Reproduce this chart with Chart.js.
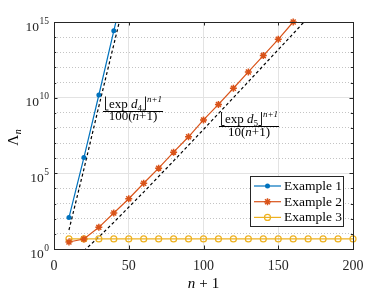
<!DOCTYPE html>
<html>
<head>
<meta charset="utf-8">
<script src="https://cdn.jsdelivr.net/npm/chart.js@4/dist/chart.umd.min.js"></script>
<style>
  html, body { margin: 0; padding: 0; background: #fff; }
  #chart { display: block; }
</style>
</head>
<body>
<canvas id="chart" width="390" height="293"></canvas>
<script>
// values (n+1 on x, Lambda_n on y)
const nExample1 = [10, 20, 30, 40, 50];
const example1 = [1.2e2, 1.1e6, 1.5e10, 2.6e14, 4e18];
const nExample2 = [10, 20, 30, 40, 50, 60, 70, 80, 90, 100, 110, 120, 130, 140, 150, 160];
const example2 = [2.9, 4.6, 27, 240, 2.1e3, 2.2e4, 2.2e5, 2.5e6, 2.6e7, 3.4e8, 3.6e9, 4.2e10, 5e11, 6e12, 7.2e13, 1e15];
const nExample3 = [10, 20, 30, 40, 50, 60, 70, 80, 90, 100, 110, 120, 130, 140, 150, 160, 170, 180, 190, 200];
const example3 = [4.6, 4.6, 4.6, 4.6, 4.6, 4.6, 4.6, 4.6, 4.6, 4.6, 4.6, 4.6, 4.6, 4.6, 4.6, 4.6, 4.6, 4.6, 4.6, 4.6];
const nBound4 = [10, 20, 30, 40, 45];
const bound4 = [18, 1.9e5, 2.7e9, 3.2e13, 3.5e15];
const nBound5 = [20, 30, 40, 60, 80, 100, 120, 140, 160, 170];
const bound5 = [0.76, 6.2, 58, 5.8e3, 6.6e5, 7.9e7, 1e10, 1.3e12, 1.7e14, 2e15];
const xTicks = [0, 50, 100, 150, 200];
const yDecades = [0, 1, 2, 3, 4, 5, 6, 7, 8, 9, 10, 11, 12, 13, 14, 15];
const yLabelDecades = [0, 5, 10, 15];
const seriesNames = ["Example 1", "Example 2", "Example 3"];

const BLUE = "#0072BD", ORANGE = "#D95319", YELLOW = "#EDB120", AXIS = "#262626";
const SERIF = "'Liberation Serif', 'DejaVu Serif', serif";

function pts(xs, ys) {
    return xs.map((x, i) => ({ x: x, y: ys[i] }));
}

function isMajor(ctx) {
    if (!ctx.tick) return true;
    return Math.round(Math.log10(ctx.tick.value)) % 5 === 0;
}

function drawMarker(ctx, style, color, x, y) {
    ctx.save();
    ctx.strokeStyle = color;
    ctx.fillStyle = color;
    if (style === "dot") {
        ctx.beginPath();
        ctx.arc(x, y, 2.5, 0, Math.PI * 2);
        ctx.fill();
    } else if (style === "star") {
        ctx.lineWidth = 1.5;
        ctx.beginPath();
        for (let k = 0; k < 4; k++) {
            const a = k * Math.PI / 4;
            ctx.moveTo(x - 3.5 * Math.cos(a), y - 3.5 * Math.sin(a));
            ctx.lineTo(x + 3.5 * Math.cos(a), y + 3.5 * Math.sin(a));
        }
        ctx.stroke();
    } else {
        ctx.lineWidth = 1.2;
        ctx.beginPath();
        ctx.arc(x, y, 3, 0, Math.PI * 2);
        ctx.stroke();
    }
    ctx.restore();
}

// draws pieces [text, font, dx, dy] left to right, returns width
// "LF" / "RF" are floor brackets drawn as strokes
function drawPieces(ctx, pieces, x, y, measureOnly) {
    let cx = x;
    pieces.forEach(p => {
        const dx = p[2] || 0;
        if (p[0] === "LF" || p[0] === "RF") {
            if (!measureOnly) {
                const bx = p[0] === "LF" ? Math.round(cx + dx + 1) + 0.5 : Math.round(cx + dx + 3) + 0.5;
                const foot = p[0] === "LF" ? 3 : -3;
                ctx.beginPath();
                ctx.lineWidth = 0.9;
                ctx.moveTo(bx, y - 11);
                ctx.lineTo(bx, y + 2.5);
                ctx.lineTo(bx + foot, y + 2.5);
                ctx.stroke();
            }
            cx += 4.5 + dx;
            return;
        }
        ctx.font = p[1];
        if (!measureOnly) ctx.fillText(p[0], cx + dx, y + (p[3] || 0));
        cx += ctx.measureText(p[0]).width + dx;
    });
    return cx - x;
}

function drawFraction(ctx, num, den, cx, barY, numBase, denBase) {
    const wn = drawPieces(ctx, num, 0, 0, true);
    const wd = drawPieces(ctx, den, 0, 0, true);
    drawPieces(ctx, num, cx - wn / 2, numBase, false);
    drawPieces(ctx, den, cx - wd / 2, denBase, false);
    const w = Math.max(wn, wd) + 2;
    ctx.beginPath();
    ctx.lineWidth = 1;
    ctx.moveTo(cx - w / 2, barY + 0.5);
    ctx.lineTo(cx + w / 2, barY + 0.5);
    ctx.stroke();
}

const decorations = {
    id: "decorations",
    afterDraw(chart) {
        const ctx = chart.ctx;
        const area = chart.chartArea;
        const xs = chart.scales.x, ys = chart.scales.y;
        ctx.save();

        // axes box
        ctx.strokeStyle = AXIS;
        ctx.lineWidth = 1;
        ctx.strokeRect(Math.round(area.left) + 0.5, Math.round(area.top) + 0.5,
            Math.round(area.right - area.left), Math.round(area.bottom - area.top));

        // inward tick marks
        ctx.beginPath();
        xTicks.forEach(v => {
            const px = Math.round(xs.getPixelForValue(v)) + 0.5;
            ctx.moveTo(px, area.bottom); ctx.lineTo(px, area.bottom - 3.5);
            ctx.moveTo(px, area.top); ctx.lineTo(px, area.top + 3.5);
        });
        yDecades.forEach(e => {
            const py = Math.round(ys.getPixelForValue(Math.pow(10, e))) + 0.5;
            const len = e % 5 === 0 ? 3.5 : 2.2;
            ctx.moveTo(area.left, py); ctx.lineTo(area.left + len, py);
            ctx.moveTo(area.right, py); ctx.lineTo(area.right - len, py);
        });
        ctx.stroke();

        // y tick labels 10^k
        ctx.fillStyle = AXIS;
        ctx.textAlign = "right";
        ctx.textBaseline = "alphabetic";
        yLabelDecades.forEach(e => {
            const py = ys.getPixelForValue(Math.pow(10, e));
            ctx.font = "9.5px " + SERIF;
            const sw = ctx.measureText(String(e)).width;
            ctx.fillText(String(e), area.left - 5, py + 1.5);
            ctx.font = "13.5px " + SERIF;
            ctx.fillText("10", area.left - 5 - sw - 0.5, py + 8.5);
        });

        // x axis title: n + 1
        ctx.textAlign = "left";
        ctx.fillStyle = "#000";
        const xt = [["n", "italic 15px " + SERIF, 0], ["+", "15px " + SERIF, 4], ["1", "15px " + SERIF, 4]];
        const xw = drawPieces(ctx, xt, 0, 0, true);
        drawPieces(ctx, xt, (area.left + area.right) / 2 - xw / 2, 288, false);

        // y axis title: Lambda_n
        ctx.save();
        ctx.translate(18, 137.5);
        ctx.rotate(-Math.PI / 2);
        const yt = [["\u039B", "15px " + SERIF, 0], ["n", "italic 10px " + SERIF, 0.5, 3]];
        const yw = drawPieces(ctx, yt, 0, 0, true);
        drawPieces(ctx, yt, -yw / 2, 0, false);
        ctx.restore();

        // bound annotations
        ctx.strokeStyle = "#000";
        const f13 = "13px " + SERIF, i13 = "italic 13px " + SERIF;
        const i9 = "italic 9px " + SERIF, f9 = "9px " + SERIF;
        drawFraction(ctx,
            [["LF", f13], ["exp ", f13, 0.5], ["d", i13], ["4", f9, 0, 3], ["RF", f13], ["n+1", i9, 0.5, -6]],
            [["100(", f13], ["n", i13], ["+1)", f13]],
            133, 111, 107.5, 120);
        drawFraction(ctx,
            [["LF", f13], ["exp ", f13, 0.5], ["d", i13], ["5", f9, 0, 3], ["RF", f13], ["n+1", i9, 0.5, -6]],
            [["10(", f13], ["n", i13], ["+1)", f13]],
            249, 126, 123, 135.5);

        // legend
        const lx = 250.5, ly = 176.5, lw = 93, lh = 50;
        ctx.fillStyle = "#fff";
        ctx.fillRect(lx, ly, lw, lh);
        ctx.strokeStyle = AXIS;
        ctx.lineWidth = 1;
        ctx.strokeRect(lx, ly, lw, lh);
        const colors = [BLUE, ORANGE, YELLOW], styles = ["dot", "star", "circle"];
        seriesNames.forEach((name, i) => {
            const ry = 186 + i * 15.7;
            ctx.strokeStyle = colors[i];
            ctx.lineWidth = 1.2;
            ctx.beginPath();
            ctx.moveTo(254, ry); ctx.lineTo(281, ry);
            ctx.stroke();
            drawMarker(ctx, styles[i], colors[i], 267.5, ry);
            ctx.fillStyle = "#000";
            ctx.font = "13.5px " + SERIF;
            ctx.textAlign = "left";
            ctx.textBaseline = "middle";
            ctx.fillText(name, 284, ry + 0.5);
        });
        ctx.restore();
    }
};

new Chart(document.getElementById("chart"), {
    type: "line",
    data: {
        datasets: [
            {
                label: seriesNames[0], data: pts(nExample1, example1),
                borderColor: BLUE, backgroundColor: BLUE, borderWidth: 1.2,
                pointStyle: "circle", pointRadius: 2.5, pointBorderWidth: 0, clip: 0,
            },
            {
                label: seriesNames[1], data: pts(nExample2, example2),
                borderColor: ORANGE, backgroundColor: ORANGE, borderWidth: 1.2,
                pointStyle: "star", pointRadius: 3.5, pointBorderWidth: 1.5, clip: false,
            },
            {
                label: seriesNames[2], data: pts(nExample3, example3),
                borderColor: YELLOW, backgroundColor: "rgba(0,0,0,0)", borderWidth: 1.2,
                pointStyle: "circle", pointRadius: 3, pointBorderWidth: 1.2, clip: false,
            },
            {
                label: "bound d4", data: pts(nBound4, bound4),
                borderColor: "#000", borderWidth: 1.2, borderDash: [3, 2.5],
                pointRadius: 0, clip: 0,
            },
            {
                label: "bound d5", data: pts(nBound5, bound5),
                borderColor: "#000", borderWidth: 1.2, borderDash: [3, 2.5],
                pointRadius: 0, clip: 0,
            },
        ],
    },
    options: {
        responsive: false,
        animation: false,
        devicePixelRatio: 1,
        layout: { padding: { top: 22, right: 37, left: 0, bottom: 0 } },
        elements: { line: { tension: 0 } },
        plugins: { legend: { display: false }, tooltip: { enabled: false } },
        scales: {
            x: {
                type: "linear", min: 0, max: 200,
                afterBuildTicks: scale => { scale.ticks = xTicks.map(v => ({ value: v })); },
                afterFit: scale => { scale.height = 44; },
                grid: { color: "#e3e3e3", lineWidth: 1, drawTicks: false },
                border: { display: false },
                ticks: {
                    padding: 9, color: AXIS, maxRotation: 0,
                    font: { family: SERIF, size: 14 },
                },
            },
            y: {
                type: "logarithmic", min: 1, max: 1e15,
                afterBuildTicks: scale => { scale.ticks = yDecades.map(e => ({ value: Math.pow(10, e) })); },
                afterFit: scale => { scale.width = 54; },
                grid: {
                    color: ctx => isMajor(ctx) ? "#e3e3e3" : "#c4c4c4",
                    borderDash: ctx => isMajor(ctx) ? [] : [1, 2],
                    lineWidth: 1, drawTicks: false,
                },
                border: { display: false, dash: ctx => isMajor(ctx) ? [] : [1, 2] },
                ticks: { display: false },
            },
        },
    },
    plugins: [decorations],
});
</script>
</body>
</html>
